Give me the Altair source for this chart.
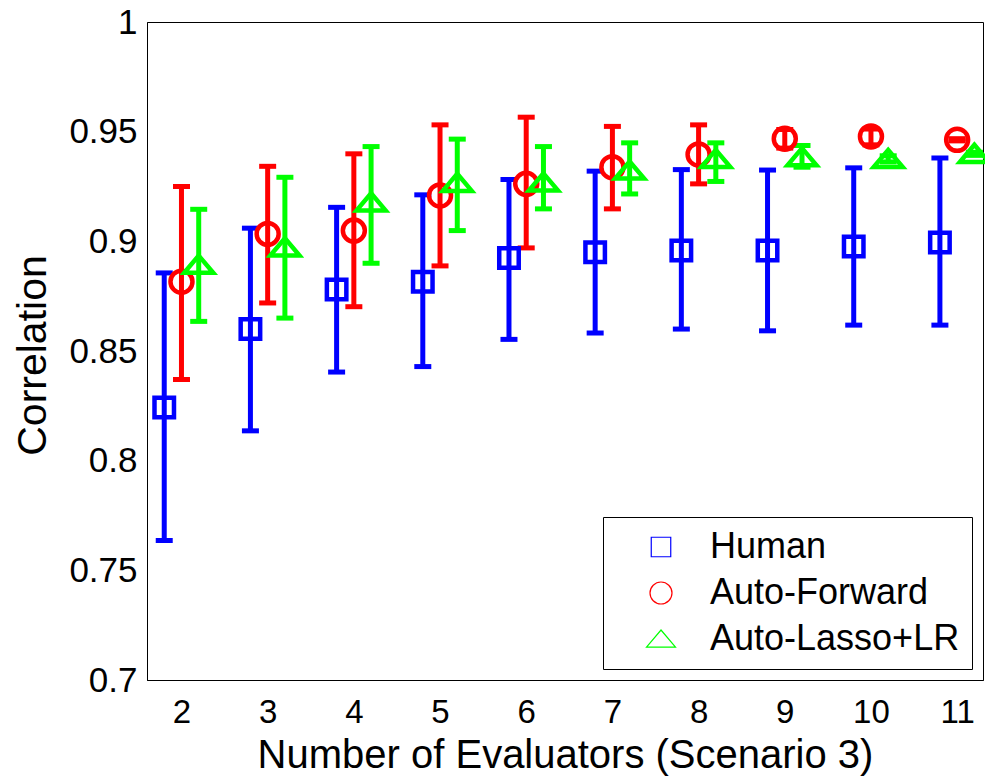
import altair as alt
import pandas as pd

evaluators = [2, 3, 4, 5, 6, 7, 8, 9, 10, 11]
series_names = ["Human", "Auto-Forward", "Auto-Lasso+LR"]

human_mean = [0.8242, 0.8600, 0.8780, 0.8816, 0.8924, 0.8950, 0.8958, 0.8958, 0.8977, 0.8995]
human_lo = [0.7636, 0.8136, 0.8404, 0.8429, 0.8553, 0.8582, 0.8600, 0.8592, 0.8618, 0.8618]
human_hi = [0.8856, 0.9060, 0.9155, 0.9212, 0.9282, 0.9320, 0.9327, 0.9325, 0.9335, 0.9380]

fwd_mean = [0.8816, 0.9034, 0.9049, 0.9209, 0.9262, 0.9338, 0.9396, 0.9468, 0.9478, 0.9463]
fwd_lo = [0.8370, 0.8719, 0.8702, 0.8888, 0.8970, 0.9148, 0.9262, 0.9425, 0.9440, 0.9458]
fwd_hi = [0.9250, 0.9342, 0.9399, 0.9531, 0.9566, 0.9524, 0.9531, 0.9510, 0.9512, 0.9468]

lasso_mean = [0.8894, 0.8973, 0.9178, 0.9267, 0.9269, 0.9323, 0.9376, 0.9384, 0.9376, 0.9399]
lasso_lo = [0.8635, 0.8650, 0.8900, 0.9049, 0.9148, 0.9216, 0.9273, 0.9338, 0.9362, 0.9392]
lasso_hi = [0.9146, 0.9292, 0.9432, 0.9466, 0.9432, 0.9449, 0.9449, 0.9437, 0.9390, 0.9406]

colors = {"Human": "#0000ff", "Auto-Forward": "#ff0000", "Auto-Lasso+LR": "#00ff00"}
x_shift = {"Human": -0.2, "Auto-Forward": 0.0, "Auto-Lasso+LR": 0.2}
TRI = "M0,-0.62L1,0.56L-1,0.56Z"

rows = []
for name, means, los, his in [
    ("Human", human_mean, human_lo, human_hi),
    ("Auto-Forward", fwd_mean, fwd_lo, fwd_hi),
    ("Auto-Lasso+LR", lasso_mean, lasso_lo, lasso_hi),
]:
    for n, m, lo, hi in zip(evaluators, means, los, his):
        rows.append({"series": name, "n": n, "pos": n + x_shift[name],
                     "mean": m, "lo": lo, "hi": hi, "col": colors[name]})
df = pd.DataFrame(rows)

FONT = "Liberation Sans"

x_axis = alt.Axis(values=evaluators, format="d", title="Number of Evaluators (Scenario 3)",
                  labelFontSize=33, labelFont=FONT, labelColor="black", labelPadding=16,
                  labelFlush=False, ticks=False, grid=False, domainColor="black",
                  titleFontSize=40, titleFont=FONT, titleFontWeight="normal", titleColor="black",
                  titleY=87, titleBaseline="alphabetic")
y_axis = alt.Axis(values=[0.7, 0.75, 0.8, 0.85, 0.9, 0.95, 1.0], format="~g", title="Correlation",
                  labelFontSize=35, labelFont=FONT, labelColor="black", labelPadding=10,
                  ticks=False, grid=False, domainColor="black",
                  titleFontSize=41, titleFont=FONT, titleFontWeight="normal", titleColor="black",
                  titleX=-102, titleY=333, titleAngle=-90, titleBaseline="alphabetic", titleAlign="center")

x_scale = alt.Scale(domain=[1.6, 11.3], nice=False, zero=False)
y_scale = alt.Scale(domain=[0.7, 1.0], nice=False, zero=False)

base = alt.Chart(df)

stems = base.mark_rule(strokeWidth=5, opacity=1).encode(
    x=alt.X("pos:Q", scale=x_scale, axis=x_axis),
    y=alt.Y("lo:Q", scale=y_scale, axis=y_axis),
    y2="hi:Q",
    color=alt.Color("col:N", scale=None),
)

caps = base.transform_fold(["lo", "hi"], as_=["end", "val"]).mark_tick(
    orient="horizontal", size=17, thickness=5, opacity=1
).encode(
    x=alt.X("pos:Q", scale=x_scale, axis=x_axis),
    y=alt.Y("val:Q", scale=y_scale, axis=y_axis),
    color=alt.Color("col:N", scale=None),
)

legend = alt.Legend(title=None, orient="none", legendX=456, legendY=495,
                    fillColor="white", strokeColor="black", padding=12,
                    symbolOffset=28, labelOffset=31, labelFontSize=36, labelFont=FONT,
                    labelColor="black", labelLimit=500, rowPadding=10,
                    symbolStrokeWidth=1.2)

points = base.mark_point(filled=False, strokeWidth=4.5, opacity=1).encode(
    x=alt.X("pos:Q", scale=x_scale, axis=x_axis),
    y=alt.Y("mean:Q", scale=y_scale, axis=y_axis),
    color=alt.Color("series:N", scale=alt.Scale(domain=series_names,
                    range=[colors[s] for s in series_names]), legend=legend),
    shape=alt.Shape("series:N", scale=alt.Scale(domain=series_names,
                    range=["square", "circle", TRI]), legend=legend),
    size=alt.Size("series:N", scale=alt.Scale(type="ordinal", domain=series_names,
                  range=[380, 484, 841]), legend=legend),
)

chart = alt.layer(stems, caps, points).properties(
    width=836, height=658,
    autosize=alt.AutoSizeParams(type="none"),
    padding={"left": 147, "top": 22, "right": 2, "bottom": 98},
    background="white",
).configure_view(stroke="black", strokeWidth=1)

chart.save("out.html", embed_options={"renderer": "svg", "actions": False})
